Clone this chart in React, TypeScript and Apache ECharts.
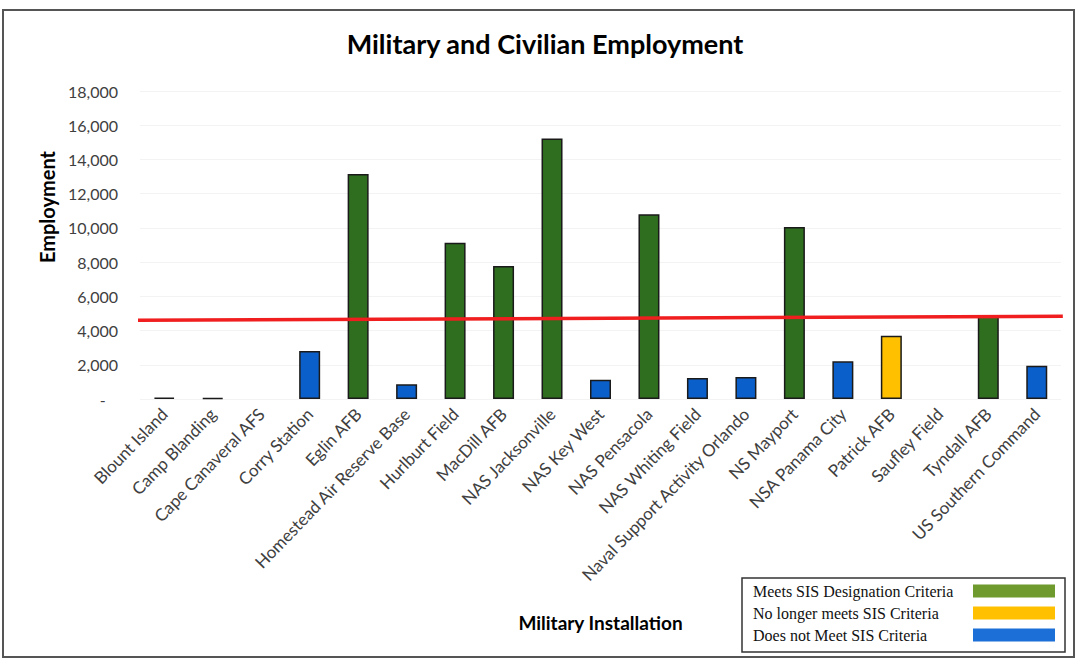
import React, { useEffect, useRef } from "react";
import * as echarts from "echarts";

const categories = [
  "Blount Island",
  "Camp Blanding",
  "Cape Canaveral AFS",
  "Corry Station",
  "Eglin AFB",
  "Homestead Air Reserve Base",
  "Hurlburt Field",
  "MacDill AFB",
  "NAS Jacksonville",
  "NAS Key West",
  "NAS Pensacola",
  "NAS Whiting Field",
  "Naval Support Activity Orlando",
  "NS Mayport",
  "NSA Panama City",
  "Patrick AFB",
  "Saufley Field",
  "Tyndall AFB",
  "US Southern Command",
];

const employment = [80, 60, 0, 2800, 13150, 860, 9130, 7770, 15220, 1130, 10800, 1230, 1290, 10050, 2200, 3700, 0, 4890, 1950];

// 0 = meets, 1 = no longer meets, 2 = does not meet
const status = [2, 2, 2, 2, 0, 2, 0, 0, 0, 2, 0, 2, 2, 0, 2, 1, 2, 0, 2];

const seriesNames = [
  "Meets SIS Designation Criteria",
  "No longer meets SIS Criteria",
  "Does not Meet SIS Criteria",
];
const barColors = ["#2f6d1f", "#ffc000", "#0b5fca"];
const legendColors = ["#6f9a2e", "#ffc000", "#1c6fd6"];

const yTicks = { min: 0, max: 18000, interval: 2000 };

// threshold line (hand-drawn look, slightly sloped)
const thresholdPos = [-0.011, 1.002];
const thresholdValues = [4600, 4830];

export default function App() {
  const ref = useRef<HTMLDivElement>(null);

  useEffect(() => {
    if (!ref.current) return;
    const chart = echarts.init(ref.current, null, { renderer: "svg" });

    const barSeries = seriesNames.map((name, si) => ({
      name,
      type: "bar",
      stack: "all",
      barWidth: 21,
      itemStyle: { color: barColors[si], borderColor: "#1a1a1a", borderWidth: 1.5 },
      data: employment.map((v, i) => (status[i] === si && v > 0 ? v : "-")),
    }));

    chart.setOption({
      animation: false,
      backgroundColor: "#ffffff",
      title: {
        text: "Military and Civilian Employment",
        left: 545,
        top: 30,
        padding: 0,
        textAlign: "center",
        textStyle: { fontFamily: "Lato", fontWeight: "bold", fontSize: 27, color: "#000" },
      },
      grid: { left: 140, right: 17, top: 91, bottom: 263, containLabel: false },
      legend: {
        orient: "vertical",
        left: 742,
        top: 578,
        align: "right",
        backgroundColor: "#fff",
        borderColor: "#333",
        borderWidth: 1.5,
        borderRadius: 0,
        padding: [5, 10, 9, 11],
        itemWidth: 82,
        itemHeight: 13,
        itemGap: 6,
        icon: "rect",
        itemStyle: { borderWidth: 0 },
        formatter: "{a|{name}}",
        textStyle: {
          fontFamily: "Liberation Serif",
          fontSize: 16,
          color: "#111",
          rich: { a: { width: 215, align: "left", fontFamily: "Liberation Serif", fontSize: 16, color: "#111", lineHeight: 16 } },
        },
        data: seriesNames.map((n, i) => ({ name: n, itemStyle: { color: legendColors[i] } })),
      },
      xAxis: [
        {
          type: "category",
          data: categories,
          name: "Military Installation",
          nameLocation: "middle",
          nameGap: 214,
          nameTextStyle: { fontFamily: "Lato", fontWeight: "bold", fontSize: 19, color: "#000" },
          axisLine: { show: false },
          axisTick: { show: false },
          axisLabel: { rotate: 46, interval: 0, fontFamily: "Lato", fontSize: 17, color: "#404040", margin: 12 },
        },
        { type: "value", min: 0, max: 1, show: false },
      ],
      yAxis: {
        type: "value",
        min: yTicks.min,
        max: yTicks.max,
        interval: yTicks.interval,
        name: "Employment",
        nameLocation: "middle",
        nameGap: 82,
        nameTextStyle: { fontFamily: "Lato", fontWeight: "bold", fontSize: 20, color: "#000", padding: [0, 0, 0, 76] },
        axisLine: { show: false },
        axisTick: { show: false },
        splitLine: { lineStyle: { color: "#f3f3f3", width: 1 } },
        axisLabel: {
          fontFamily: "Lato",
          fontSize: 16,
          color: "#404040",
          margin: 22,
          formatter: (v: number) => (v === 0 ? "-   " : v.toLocaleString("en-US")),
        },
      },
      graphic: [
        {
          type: "rect",
          shape: { x: 3, y: 10, width: 1071, height: 647 },
          style: { fill: "none", stroke: "#555", lineWidth: 2 },
          silent: true,
        },
      ],
      series: [
        ...barSeries,
        {
          name: "threshold",
          type: "line",
          xAxisIndex: 1,
          clip: false,
          symbol: "none",
          silent: true,
          lineStyle: { color: "#f01e1e", width: 3.5 },
          data: thresholdPos.map((p, i) => [p, thresholdValues[i]]),
          z: 5,
        },
      ],
    });

    return () => chart.dispose();
  }, []);

  return (
    <div
      ref={ref}
      style={{ position: "fixed", left: 0, top: 0, width: 1078, height: 662 }}
    />
  );
}
